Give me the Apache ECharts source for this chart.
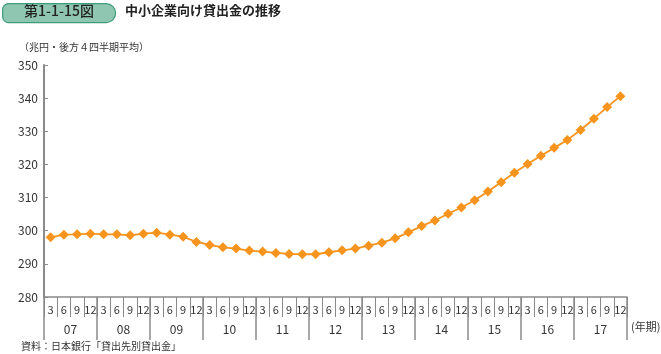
<!DOCTYPE html>
<html>
<head>
<meta charset="utf-8">
<script src="https://cdn.jsdelivr.net/npm/echarts@6/dist/echarts.min.js"></script>
<style>
  html, body { margin: 0; padding: 0; background: #fff; }
  #chart { width: 661px; height: 354px; }
</style>
</head>
<body>
<div id="chart"></div>
<script>
// Quarter-end months per year, and the fiscal years shown on the axis
const years = ['07', '08', '09', '10', '11', '12', '13', '14', '15', '16', '17']
const quarters = ['3', '6', '9', '12']

// Loans to SMEs, trillion yen (trailing 4-quarter average), 2007Q1..2017Q4
const loans = [
  298.0, 298.8, 298.9, 299.1,
  298.9, 298.9, 298.6, 299.1,
  299.4, 298.8, 298.2, 296.6,
  295.7, 295.0, 294.6, 294.0,
  293.7, 293.3, 293.0, 292.9,
  292.9, 293.5, 294.1, 294.6,
  295.5, 296.4, 297.7, 299.5,
  301.4, 303.1, 305.1, 307.0,
  309.2, 311.8, 314.6, 317.5,
  320.1, 322.6, 325.0, 327.4,
  330.4, 333.8, 337.3, 340.6,
]

const quarterCats = years.flatMap((y) => quarters.map((q) => y + '-' + q))

const FONT = '"Noto Sans CJK JP", "Noto Sans", sans-serif'
const AXIS = '#8a8a8a'
const TEXT = '#333'
const ORANGE = '#f7941d'

const chart = echarts.init(document.getElementById('chart'))

chart.setOption({
  animation: false,
  backgroundColor: '#fff',
  textStyle: { fontFamily: FONT },
  grid: { left: 44, right: 34, top: 65, bottom: 57 },
  graphic: [
    {
      type: 'rect',
      left: 2, top: 3,
      shape: { width: 113, height: 19, r: [6, 10, 10, 6] },
      style: { fill: '#8fc6b1', stroke: '#3d9c7c', lineWidth: 1.2 },
    },
    {
      type: 'text',
      left: 24, top: 4,
      style: { text: '第1-1-15図', fill: '#222', font: '500 14px ' + FONT },
    },
    {
      type: 'text',
      left: 125, top: 4,
      style: { text: '中小企業向け貸出金の推移', fill: '#222', font: 'bold 13px ' + FONT },
    },
    {
      type: 'text',
      left: 19, top: 42,
      style: { text: '（兆円・後方４四半期平均）', fill: TEXT, font: '10px ' + FONT },
    },
    {
      type: 'text',
      left: 631, top: 321,
      style: { text: '(年期)', fill: TEXT, font: '11px ' + FONT },
    },
    {
      type: 'text',
      left: 21, top: 341,
      style: { text: '資料：日本銀行「貸出先別貸出金」', fill: TEXT, font: '10px ' + FONT },
    },
  ],
  xAxis: [
    {
      type: 'category',
      data: quarterCats,
      boundaryGap: true,
      position: 'bottom',
      axisLine: { lineStyle: { color: AXIS, width: 1.5 } },
      axisTick: { show: true, interval: 0, length: 20, lineStyle: { color: AXIS, width: 1 } },
      axisLabel: {
        interval: 0,
        margin: 7,
        color: TEXT,
        fontSize: 11,
        formatter: (v) => v.split('-')[1],
      },
    },
    {
      type: 'category',
      data: years,
      boundaryGap: true,
      position: 'bottom',
      offset: 0,
      axisLine: { show: false },
      axisTick: { show: true, interval: 0, length: 43, lineStyle: { color: AXIS, width: 1.5 } },
      axisLabel: { interval: 0, margin: 26, color: TEXT, fontSize: 12 },
    },
  ],
  yAxis: {
    type: 'value',
    min: 280,
    max: 350,
    interval: 10,
    axisLine: { show: true, lineStyle: { color: AXIS, width: 2 } },
    axisTick: { show: true, inside: true, length: 4, lineStyle: { color: AXIS } },
    axisLabel: { color: TEXT, fontSize: 12, margin: 6 },
    splitLine: { show: false },
  },
  series: [
    {
      name: '中小企業向け貸出金',
      type: 'line',
      xAxisIndex: 0,
      data: loans,
      symbol: 'diamond',
      symbolSize: 10,
      itemStyle: { color: ORANGE },
      lineStyle: { color: ORANGE, width: 1.8 },
    },
  ],
})
</script>
</body>
</html>
